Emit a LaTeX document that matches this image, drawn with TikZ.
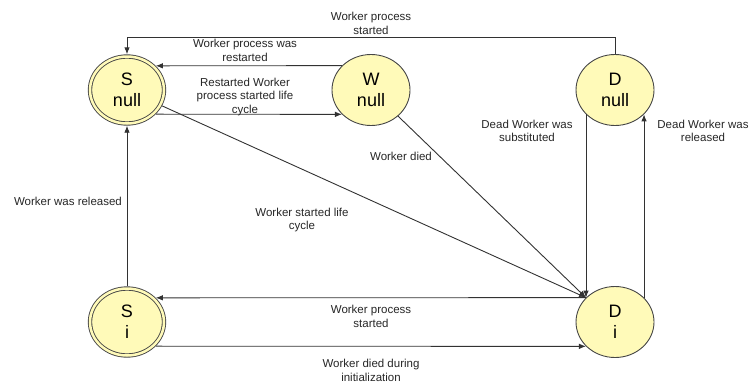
\documentclass[tikz,border=0pt]{standalone}
\usepackage{fontspec}
\setmainfont{Liberation Sans}
\usetikzlibrary{arrows,arrows.meta,shapes}
\definecolor{statefill}{RGB}{255,250,185}
\definecolor{stateline}{RGB}{70,70,70}
\definecolor{edgeline}{RGB}{50,50,50}
\tikzstyle{state}=[ellipse,fill=statefill,draw=stateline,line width=0.9pt,minimum width=78pt,minimum height=71pt,inner sep=0pt,align=center,font=\fontsize{18}{21}\selectfont]
\tikzstyle{initstate}=[state,double=statefill,double distance=2.5pt,minimum width=74pt,minimum height=67pt,outer sep=2.2pt]
\tikzstyle{edgelabel}=[align=center,text=black!85,inner sep=1pt,font=\fontsize{11.5}{13.3}\selectfont]
\tikzstyle{transition}=[-{Latex[length=7pt,width=5.5pt]},draw=edgeline,line width=0.9pt]

\begin{document}
\begin{tikzpicture}[x=1pt,y=-1pt]
    \useasboundingbox (0,0) rectangle (751,383);

    % states
    \foreach \pos/ \name / \top / \sub in {{(127,90)/Snull/S/null}, {(127,322)/Si/S/i}}
        \node[initstate] (\name) at \pos {\top\\\sub};
    \foreach \pos/ \name / \top / \sub in {{(371,90)/Wnull/W/null}, {(615,90)/Dnull/D/null}, {(615,322)/Di/D/i}}
        \node[state] (\name) at \pos {\top\\\sub};

    % transitions
    \draw[transition] (Dnull.north) -- ++(0,-17) -| (Snull.north);
    \draw[transition] (Wnull.140) -- (Snull.40);
    \draw[transition] (Snull.-40) -- (Wnull.-140);
    \draw[transition] (Snull) -- (Di.140);
    \draw[transition] (Wnull) -- (Di.140);
    \draw[transition] (Dnull.-140) -- (Di.140);
    \draw[transition] (Di.40) -- (Dnull.-40);
    \draw[transition] (Di.140) -- (Si.40);
    \draw[transition] (Si.-40) -- (Di.-140);
    \draw[transition] (Si.north) -- (Snull.south);

    % labels
    \foreach \pos/ \name / \label in {{(371,23.5)/lstart/Worker process\\started},
        {(245,50.5)/lrestart/Worker process was\\restarted},
        {(245,97)/lcycle/Restarted Worker\\process started life\\cycle},
        {(401,156)/ldied/Worker died},
        {(302,220)/llife/Worker started life\\cycle},
        {(527,131)/lsubst/Dead Worker was\\substituted},
        {(703,131)/ldrel/Dead Worker was\\released},
        {(68,201.5)/lrel/Worker was released},
        {(371,316.5)/lproc/Worker process\\started},
        {(371,370.5)/linit/Worker died during\\initialization}}
        \node[edgelabel] (\name) at \pos {\label};
\end{tikzpicture}
\end{document}
